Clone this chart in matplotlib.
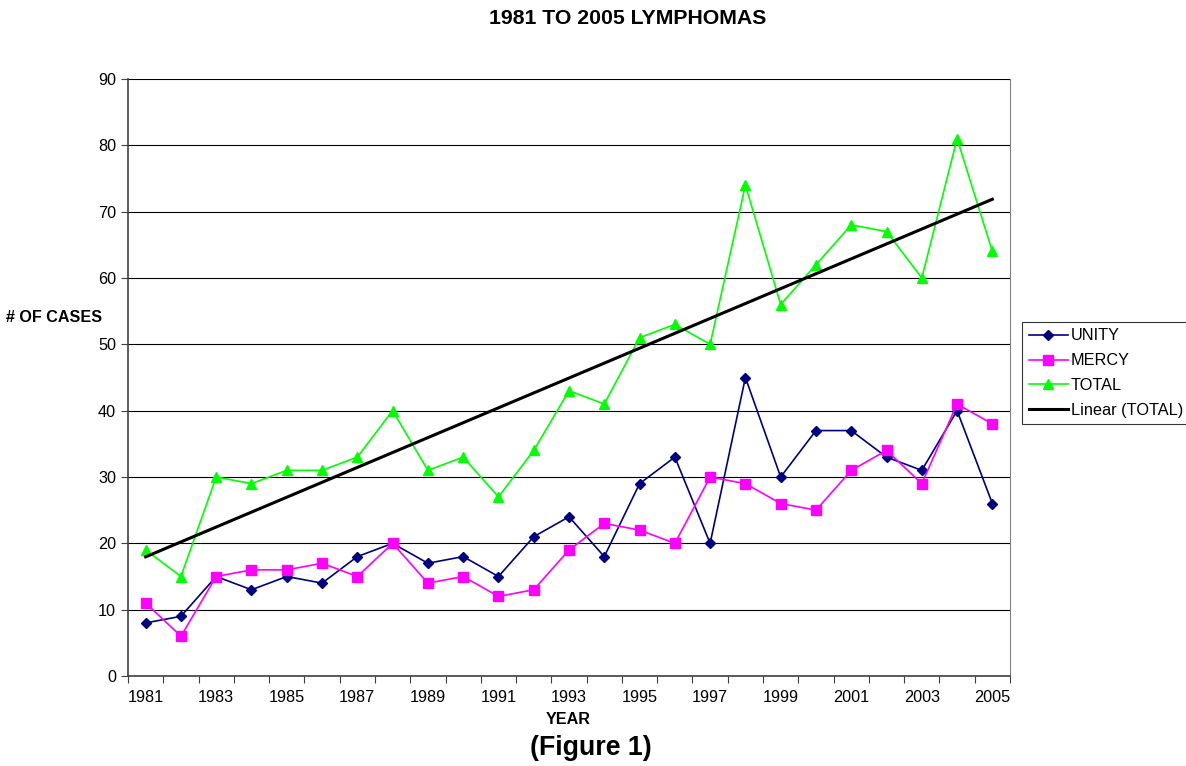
import matplotlib
matplotlib.use("Agg")
import matplotlib.pyplot as plt
import numpy as np
from matplotlib.ticker import FixedLocator, NullFormatter

years = list(range(1981, 2006))
unity = [8, 9, 15, 13, 15, 14, 18, 20, 17, 18, 15, 21, 24, 18, 29, 33, 20, 45, 30, 37, 37, 33, 31, 40, 26]
mercy = [11, 6, 15, 16, 16, 17, 15, 20, 14, 15, 12, 13, 19, 23, 22, 20, 30, 29, 26, 25, 31, 34, 29, 41, 38]
total = [19, 15, 30, 29, 31, 31, 33, 40, 31, 33, 27, 34, 43, 41, 51, 53, 50, 74, 56, 62, 68, 67, 60, 81, 64]

plt.rcParams['font.family'] = ['Liberation Sans', 'DejaVu Sans']

fig = plt.figure(figsize=(11.86, 7.66), dpi=100)
ax = fig.add_axes([128/1186, 1-676/766, (1010-128)/1186, (676-79)/766])

x = np.arange(len(years))
ax.plot(x, unity, color='#000080', marker='D', markersize=5, lw=1.2, label='UNITY', zorder=4)
ax.plot(x, mercy, color='#FF00FF', marker='s', markersize=6.5, lw=1.2, label='MERCY', zorder=4)
ax.plot(x, total, color='#00FF00', marker='^', markersize=7, lw=1.2, label='TOTAL', zorder=4)
coef = np.polyfit(x, total, 1)
ax.plot(x, np.polyval(coef, x), color='black', lw=2.2, label='Linear (TOTAL)', zorder=5)

ax.set_xlim(-0.5, len(years) - 0.5)
ax.set_ylim(0, 90)
ax.set_yticks(np.arange(0, 91, 10))
ax.yaxis.grid(True, color='black', lw=0.8)
ax.set_axisbelow(True)

ax.xaxis.set_major_locator(FixedLocator(np.arange(-0.5, len(years), 1)))
ax.xaxis.set_major_formatter(NullFormatter())
ax.xaxis.set_minor_locator(FixedLocator(x[::2]))
ax.set_xticklabels([str(y) for y in years[::2]], minor=True)
ax.tick_params(axis='x', which='major', length=5, direction='out', color='#404040')
ax.tick_params(axis='x', which='minor', length=0, labelsize=11.7, pad=10)
ax.tick_params(axis='y', length=5, direction='out', labelsize=11.7, color='#404040')

for s in ['left', 'bottom']:
    ax.spines[s].set_color('#404040')
    ax.spines[s].set_linewidth(1.2)
ax.spines['top'].set_visible(False)
ax.spines['right'].set_color('#808080')

fig.text(628/1186, 1-18/766, '1981 TO 2005 LYMPHOMAS', ha='center', va='center', fontsize=15.3, fontweight='bold')
fig.text(54/1186, 1-318/766, '# OF CASES', ha='center', va='center', fontsize=11.6, fontweight='bold')
fig.text(568/1186, 1-720/766, 'YEAR', ha='center', va='center', fontsize=11.6, fontweight='bold')
fig.text(591/1186, 1-748/766, '(Figure 1)', ha='center', va='center', fontsize=19.3, fontweight='bold')

leg = fig.legend(loc='upper left', bbox_to_anchor=(1022/1186, 1-322/766), fontsize=11.7,
                 frameon=True, fancybox=False, edgecolor='black', borderpad=0.4,
                 labelspacing=0.6, handlelength=2.4, handletextpad=0.2, borderaxespad=0)
leg.get_frame().set_linewidth(0.8)

fig.savefig('out.png', dpi=100)
